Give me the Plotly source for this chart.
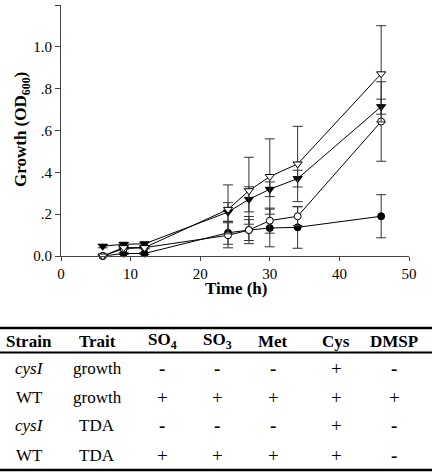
import plotly.graph_objects as go

# ---------------- data ----------------
time_h = [6, 9, 12, 24, 27, 30, 34, 46]

wt_open_tri = [0.0, 0.04, 0.04, 0.223, 0.312, 0.38, 0.44, 0.871]
wt_open_tri_err = [0.005, 0.005, 0.005, 0.117, 0.16, 0.18, 0.18, 0.23]

filled_tri = [0.047, 0.056, 0.058, 0.21, 0.271, 0.319, 0.37, 0.714]
filled_tri_err = [0.008, 0.008, 0.008, 0.045, 0.06, 0.035, 0.04, 0.036]

open_circ = [0.0, 0.035, 0.04, 0.099, 0.124, 0.169, 0.19, 0.643]
open_circ_err = [0.005, 0.005, 0.005, 0.06, 0.05, 0.06, 0.045, 0.19]

filled_circ = [0.0, 0.012, 0.012, 0.111, 0.124, 0.134, 0.137, 0.19]
filled_circ_err = [0.005, 0.005, 0.005, 0.055, 0.065, 0.09, 0.1, 0.103]

x_ticks = [0, 10, 20, 30, 40, 50]
y_ticks = [0.0, 0.2, 0.4, 0.6, 0.8, 1.0, 1.2]
y_tick_labels = ["0.0", ".2", ".4", ".6", ".8", "1.0", "1.2"]

table_header = ["Strain", "Trait", "SO<sub>4</sub>", "SO<sub>3</sub>", "Met", "Cys", "DMSP"]
table_strain = ["<i>cysI</i>", "WT", "<i>cysI</i>", "WT"]
table_trait = ["growth", "growth", "TDA", "TDA"]
table_so4 = ["-", "+", "-", "+"]
table_so3 = ["-", "+", "-", "+"]
table_met = ["-", "+", "-", "+"]
table_cys = ["+", "+", "+", "+"]
table_dmsp = ["-", "+", "-", "-"]

# ---------------- layout helpers ----------------
W, H = 432, 472
L, R, T, B = 61, 23, 5, 216
PW, PH = W - L - R, H - T - B
FONT = "Liberation Serif"


def px2x(px):
    return (px - L) / PW


def py2y(py):
    return (H - B - py) / PH


fig = go.Figure()


def add_series(y, err, symbol, fill):
    fig.add_trace(go.Scatter(
        x=time_h, y=y, mode="lines+markers",
        line=dict(color="black", width=1),
        marker=dict(symbol=symbol, size=8 if "triangle" in symbol else 7,
                    color=fill, line=dict(color="black", width=1)),
        error_y=dict(type="data", array=err, visible=True,
                     color="#333333", thickness=1, width=5),
        showlegend=False, cliponaxis=False,
    ))


add_series(filled_circ, filled_circ_err, "circle", "black")
add_series(open_circ, open_circ_err, "circle", "white")
add_series(filled_tri, filled_tri_err, "triangle-down", "black")
add_series(wt_open_tri, wt_open_tri_err, "triangle-down", "white")

fig.update_layout(
    width=W, height=H,
    margin=dict(l=L, r=R, t=T, b=B, pad=0),
    paper_bgcolor="white", plot_bgcolor="white",
    font=dict(family=FONT, size=15, color="black"),
    xaxis=dict(range=[0, 50], tickvals=x_ticks, ticks="outside", ticklen=4,
               tickwidth=1, tickcolor="#444", showline=True, linecolor="#444",
               linewidth=1, showgrid=False, zeroline=False,
               tickfont=dict(family=FONT, size=15)),
    yaxis=dict(range=[0, 1.2], tickvals=y_ticks, ticktext=y_tick_labels,
               ticks="outside", ticklen=5, tickwidth=1, tickcolor="#444",
               showline=True, linecolor="#444", linewidth=1, showgrid=False,
               zeroline=False, tickfont=dict(family=FONT, size=15)),
)

annotations = [
    dict(text="<b>Time (h)</b>", x=px2x(236), y=py2y(289), xref="paper",
         yref="paper", showarrow=False, font=dict(family=FONT, size=17),
         xanchor="center", yanchor="middle"),
    dict(text="<b>Growth (OD<sub>600</sub>)</b>", x=px2x(22), y=py2y(130),
         xref="paper", yref="paper", showarrow=False, textangle=-90,
         font=dict(family=FONT, size=17), xanchor="center", yanchor="middle"),
]

col_x = [29, 97, 162, 217, 273, 336, 394]
header_y = 341
row_y = [368, 397, 426, 455]

for cx, txt in zip(col_x, table_header):
    annotations.append(dict(text="<b>%s</b>" % txt, x=px2x(cx), y=py2y(header_y),
                            xref="paper", yref="paper", showarrow=False,
                            font=dict(family=FONT, size=17),
                            xanchor="center", yanchor="middle"))

columns = [table_strain, table_trait, table_so4, table_so3, table_met,
           table_cys, table_dmsp]
for cx, col in zip(col_x, columns):
    for ry, val in zip(row_y, col):
        if val == "-":
            txt, size = "<b>-</b>", 19
        elif val == "+":
            txt, size = "+", 19
        else:
            txt, size = val, 17
        annotations.append(dict(text=txt, x=px2x(cx), y=py2y(ry),
                                xref="paper", yref="paper", showarrow=False,
                                font=dict(family=FONT, size=size),
                                xanchor="center", yanchor="middle"))

fig.update_layout(annotations=annotations)

shapes = []
for ly, lw in [(328, 2.5), (352.5, 2), (470, 2.5)]:
    shapes.append(dict(type="line", xref="paper", yref="paper",
                       x0=px2x(0), x1=px2x(W), y0=py2y(ly), y1=py2y(ly),
                       line=dict(color="black", width=lw)))
fig.update_layout(shapes=shapes)

fig.write_html(
    "out.html",
    config={"displayModeBar": False},
    post_script="document.body.style.margin='0';document.body.style.overflow='hidden';",
)
